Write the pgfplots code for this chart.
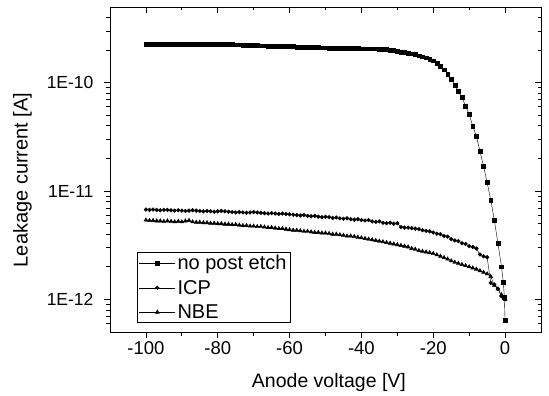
\documentclass[border=0pt]{standalone}
\usepackage{fontspec}
\setmainfont{Liberation Sans}
\usepackage{pgfplots}
\usepackage{pgfplotstable}
\pgfplotsset{compat=1.18}
\pgfplotstableread{
x y
-100 2.28e-10
-99 2.28e-10
-98 2.28e-10
-97 2.27e-10
-96 2.28e-10
-95 2.27e-10
-94 2.27e-10
-93 2.27e-10
-92 2.26e-10
-91 2.27e-10
-90 2.27e-10
-89 2.26e-10
-88 2.26e-10
-87 2.27e-10
-86 2.26e-10
-85 2.26e-10
-84 2.25e-10
-83 2.26e-10
-82 2.26e-10
-81 2.27e-10
-80 2.26e-10
-79 2.26e-10
-78 2.27e-10
-77 2.26e-10
-76 2.25e-10
-75 2.24e-10
-74 2.24e-10
-73 2.23e-10
-72 2.22e-10
-71 2.22e-10
-70 2.21e-10
-69 2.21e-10
-68 2.20e-10
-67 2.20e-10
-66 2.19e-10
-65 2.19e-10
-64 2.18e-10
-63 2.18e-10
-62 2.17e-10
-61 2.17e-10
-60 2.16e-10
-59 2.16e-10
-58 2.14e-10
-57 2.14e-10
-56 2.13e-10
-55 2.13e-10
-54 2.12e-10
-53 2.12e-10
-52 2.12e-10
-51 2.11e-10
-50 2.11e-10
-49 2.10e-10
-48 2.10e-10
-47 2.10e-10
-46 2.09e-10
-45 2.09e-10
-44 2.08e-10
-43 2.08e-10
-42 2.07e-10
-41 2.07e-10
-40 2.06e-10
-39 2.06e-10
-38 2.06e-10
-37 2.06e-10
-36 2.06e-10
-35 2.05e-10
-34 2.04e-10
-33 2.03e-10
-32 2.01e-10
-31 1.99e-10
-30 1.96e-10
-29 1.93e-10
-28 1.91e-10
-27 1.88e-10
-26 1.85e-10
-25 1.82e-10
-24 1.78e-10
-23 1.74e-10
-22 1.70e-10
-21 1.65e-10
-20 1.60e-10
-19 1.52e-10
-18 1.43e-10
-17 1.32e-10
-16 1.20e-10
-15 1.08e-10
-14 9.5e-11
-13 8.3e-11
-12 7.3e-11
-11 6.1e-11
-10 5.1e-11
-9 4.0e-11
-8 3.2e-11
-7 2.35e-11
-6 1.7e-11
-5 1.2e-11
-4 8.3e-12
-3 5.4e-12
-2 3.3e-12
-1 2.0e-12
-0.5 1.45e-12
-0.2 1.05e-12
0 6.4e-13
}\noetch
\pgfplotstableread{
x y
-100 6.75e-12
-99 6.7e-12
-98 6.75e-12
-97 6.7e-12
-96 6.65e-12
-95 6.7e-12
-94 6.7e-12
-93 6.65e-12
-92 6.6e-12
-91 6.65e-12
-90 6.6e-12
-89 6.55e-12
-88 6.6e-12
-87 6.65e-12
-86 6.6e-12
-85 6.55e-12
-84 6.5e-12
-83 6.55e-12
-82 6.5e-12
-81 6.45e-12
-80 6.5e-12
-79 6.55e-12
-78 6.5e-12
-77 6.45e-12
-76 6.4e-12
-75 6.35e-12
-74 6.4e-12
-73 6.35e-12
-72 6.3e-12
-71 6.35e-12
-70 6.4e-12
-69 6.35e-12
-68 6.3e-12
-67 6.25e-12
-66 6.2e-12
-65 6.25e-12
-64 6.2e-12
-63 6.15e-12
-62 6.2e-12
-61 6.15e-12
-60 6.1e-12
-59 6.05e-12
-58 6.0e-12
-57 5.95e-12
-56 6.0e-12
-55 5.9e-12
-54 5.85e-12
-53 5.9e-12
-52 5.8e-12
-51 5.75e-12
-50 5.8e-12
-49 5.75e-12
-48 5.65e-12
-47 5.7e-12
-46 5.6e-12
-45 5.55e-12
-44 5.6e-12
-43 5.5e-12
-42 5.45e-12
-41 5.5e-12
-40 5.4e-12
-39 5.35e-12
-38 5.4e-12
-37 5.25e-12
-36 5.2e-12
-35 5.25e-12
-34 5.1e-12
-33 5.05e-12
-32 5.1e-12
-31 5.0e-12
-30 5.05e-12
-29 4.65e-12
-28 4.6e-12
-27 4.6e-12
-26 4.55e-12
-25 4.5e-12
-24 4.45e-12
-23 4.35e-12
-22 4.3e-12
-21 4.25e-12
-20 4.15e-12
-19 4.05e-12
-18 4.0e-12
-17 3.85e-12
-16 3.8e-12
-15 3.6e-12
-14 3.5e-12
-13 3.45e-12
-12 3.3e-12
-11 3.25e-12
-10 3.1e-12
-9 3.05e-12
-8 2.95e-12
-7 2.6e-12
-6 2.5e-12
-5 2.45e-12
-4 1.42e-12
-3 1.37e-12
-2 1.25e-12
-1 1.07e-12
0 1.0e-12
}\icp
\pgfplotstableread{
x y
-100 5.4e-12
-99 5.35e-12
-98 5.35e-12
-97 5.3e-12
-96 5.3e-12
-95 5.25e-12
-94 5.3e-12
-93 5.25e-12
-92 5.2e-12
-91 5.25e-12
-90 5.2e-12
-89 5.3e-12
-88 5.35e-12
-87 5.2e-12
-86 5.15e-12
-85 5.15e-12
-84 5.1e-12
-83 5.1e-12
-82 5.05e-12
-81 5.05e-12
-80 5.0e-12
-79 5.0e-12
-78 4.95e-12
-77 4.95e-12
-76 4.9e-12
-75 4.9e-12
-74 4.85e-12
-73 4.8e-12
-72 4.8e-12
-71 4.75e-12
-70 4.75e-12
-69 4.7e-12
-68 4.7e-12
-67 4.65e-12
-66 4.6e-12
-65 4.6e-12
-64 4.55e-12
-63 4.5e-12
-62 4.5e-12
-61 4.45e-12
-60 4.4e-12
-59 4.35e-12
-58 4.35e-12
-57 4.3e-12
-56 4.25e-12
-55 4.25e-12
-54 4.2e-12
-53 4.15e-12
-52 4.15e-12
-51 4.1e-12
-50 4.1e-12
-49 4.05e-12
-48 4.0e-12
-47 4.0e-12
-46 3.95e-12
-45 3.9e-12
-44 3.85e-12
-43 3.85e-12
-42 3.8e-12
-41 3.75e-12
-40 3.7e-12
-39 3.65e-12
-38 3.6e-12
-37 3.55e-12
-36 3.5e-12
-35 3.45e-12
-34 3.4e-12
-33 3.35e-12
-32 3.3e-12
-31 3.25e-12
-30 3.2e-12
-29 3.15e-12
-28 3.1e-12
-27 3.05e-12
-26 2.95e-12
-25 2.9e-12
-24 2.82e-12
-23 2.78e-12
-22 2.74e-12
-21 2.7e-12
-20 2.65e-12
-19 2.58e-12
-18 2.5e-12
-17 2.43e-12
-16 2.36e-12
-15 2.27e-12
-14 2.2e-12
-13 2.15e-12
-12 2.1e-12
-11 2.05e-12
-10 2.0e-12
-9 1.95e-12
-8 1.9e-12
-7 1.84e-12
-6 1.78e-12
-5 1.72e-12
-4 1.63e-12
-3 1.35e-12
-2 1.25e-12
-1 1.1e-12
0 1.0e-12
}\nbe
\begin{document}
\begin{tikzpicture}
\begin{axis}[
  scale only axis, width=431pt, height=325pt,
  xmin=-110, xmax=10, ymode=log, ymin=5e-13, ymax=5e-10,
  xtick={-100,-80,-60,-40,-20,0}, minor x tick num=1,
  ytick={1e-12,1e-11,1e-10},
  minor ytick={6e-13,7e-13,8e-13,9e-13,2e-12,3e-12,4e-12,5e-12,6e-12,7e-12,8e-12,9e-12,2e-11,3e-11,4e-11,5e-11,6e-11,7e-11,8e-11,9e-11,2e-10,3e-10,4e-10},
  major tick length=6pt, minor tick length=3.5pt,
  axis line style={black, line width=0.9pt},
  tick style={black, line width=0.7pt},
  xtick pos=left, ytick pos=left, tick align=outside,
  xticklabels={-100,-80,-60,-40,-20,0},
  yticklabels={1E-12,1E-11,1E-10},
  xticklabel style={font=\fontsize{18.5}{20}\selectfont},
  yticklabel style={font=\fontsize{17.5}{20}\selectfont, xshift=-7pt},
  xlabel={Anode voltage [V]}, ylabel={Leakage current [A]},
  xlabel style={font=\fontsize{19.5}{22}\selectfont, at={(axis description cs:0.508,-0.155)}, anchor=center},
  ylabel style={font=\fontsize{20}{22}\selectfont, at={(axis description cs:-0.203,0.468)}, anchor=center},
  legend cell align=left,
  legend style={at={(0.062,0.027)}, anchor=south west, draw=black, line width=0.8pt,
    font=\fontsize{20}{24}\selectfont, inner xsep=2pt, inner ysep=1pt, row sep=5pt},
  legend image code/.code={\draw[mark repeat=2,mark phase=2,line width=0.4pt] plot coordinates {(0pt,0pt) (18pt,0pt) (36pt,0pt)};},
  after end axis/.code={\draw[black, line width=0.9pt] (rel axis cs:0,0) rectangle (rel axis cs:1,1);},
]
\addplot[black, line width=0.4pt, mark=square*, mark size=1.9pt, mark options={solid}] table[x=x,y=y] {\noetch};
\addlegendentry{no post etch}
\addplot[black, line width=0.4pt, mark=*, mark size=1.9pt, mark options={solid}] table[x=x,y=y] {\icp};
\addlegendentry{ICP}
\addplot[black, line width=0.4pt, mark=triangle*, mark size=2.3pt, mark options={solid}] table[x=x,y=y] {\nbe};
\addlegendentry{NBE}
\end{axis}
\begin{axis}[
  scale only axis, width=431pt, height=325pt,
  xmin=-110, xmax=10, ymode=log, ymin=5e-13, ymax=5e-10,
  xtick={-100,-80,-60,-40,-20,0}, minor x tick num=1,
  ytick={1e-12,1e-11,1e-10},
  minor ytick={6e-13,7e-13,8e-13,9e-13,2e-12,3e-12,4e-12,5e-12,6e-12,7e-12,8e-12,9e-12,2e-11,3e-11,4e-11,5e-11,6e-11,7e-11,8e-11,9e-11,2e-10,3e-10,4e-10},
  major tick length=6pt, minor tick length=3.5pt,
  axis line style={black, line width=0.9pt},
  tick style={black, line width=0.7pt},
  xtick pos=right, ytick pos=right, tick align=inside,
  xticklabels={}, yticklabels={},
]
\addplot[draw=none, forget plot] coordinates {(-110,5e-13) (10,5e-10)};
\end{axis}
\pgfresetboundingbox
\path (-110pt,-64pt) rectangle (439pt,332pt);
\end{tikzpicture}
\end{document}
